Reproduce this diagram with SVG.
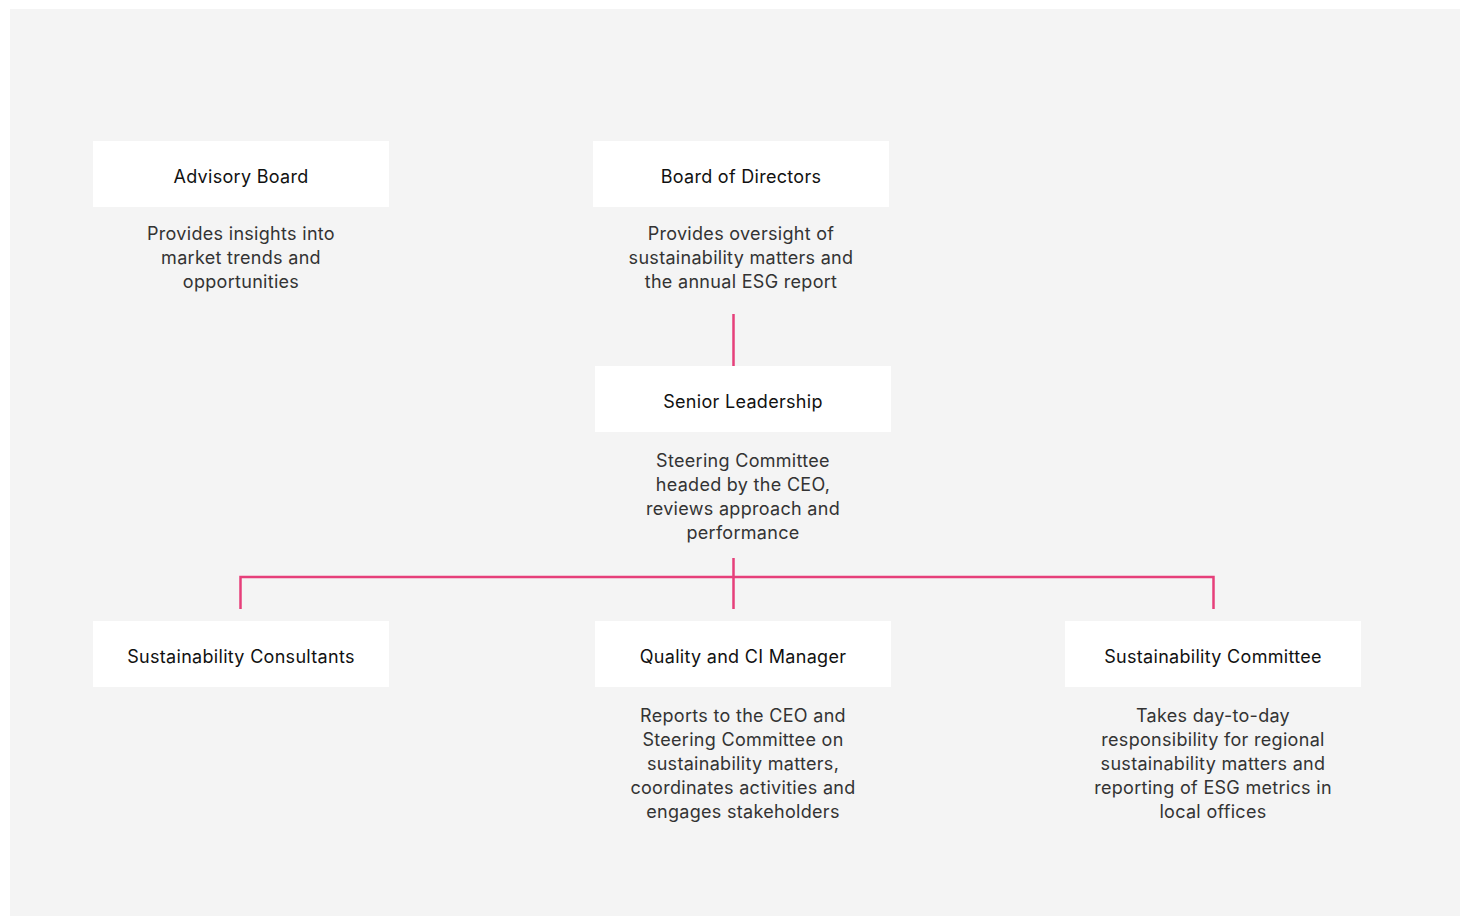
<svg xmlns="http://www.w3.org/2000/svg" width="1460" height="916" viewBox="0 0 1460 916">
<style>
.box{fill:#ffffff}
.t{font-family:Inter,"Liberation Sans",sans-serif;font-size:18px;letter-spacing:0.3px;fill:#111111;text-anchor:middle}
.d{font-family:Inter,"Liberation Sans",sans-serif;font-size:18px;letter-spacing:0.3px;fill:#333333;text-anchor:middle}
.c{fill:none;stroke:#e63f7a;stroke-width:2.5}
</style>
<rect width="1460" height="916" fill="#ffffff"/>
<rect x="10" y="9" width="1450" height="907" fill="#f4f4f4"/>
<g id="connectors">
<line class="c" x1="733.5" y1="314" x2="733.5" y2="366"/>
<line class="c" x1="733.5" y1="558" x2="733.5" y2="609"/>
<polyline class="c" points="240.5,609 240.5,577 1213.5,577 1213.5,609"/>
</g>
<g id="advisory-board">
<rect class="box" x="93" y="141" width="296" height="66"/>
<text class="t" x="241" y="182.5">Advisory Board</text>
<text class="d" x="241" y="239.5">Provides insights into</text>
<text class="d" x="241" y="263.5">market trends and</text>
<text class="d" x="241" y="287.5">opportunities</text>
</g>
<g id="board-of-directors">
<rect class="box" x="593" y="141" width="296" height="66"/>
<text class="t" x="741" y="182.5">Board of Directors</text>
<text class="d" x="741" y="239.5">Provides oversight of</text>
<text class="d" x="741" y="263.5">sustainability matters and</text>
<text class="d" x="741" y="287.5">the annual ESG report</text>
</g>
<g id="senior-leadership">
<rect class="box" x="595" y="366" width="296" height="66"/>
<text class="t" x="743" y="407.5">Senior Leadership</text>
<text class="d" x="743" y="466.5">Steering Committee</text>
<text class="d" x="743" y="490.5">headed by the CEO,</text>
<text class="d" x="743" y="514.5">reviews approach and</text>
<text class="d" x="743" y="538.5">performance</text>
</g>
<g id="sustainability-consultants">
<rect class="box" x="93" y="621" width="296" height="66"/>
<text class="t" x="241" y="662.5">Sustainability Consultants</text>
</g>
<g id="quality-ci-manager">
<rect class="box" x="595" y="621" width="296" height="66"/>
<text class="t" x="743" y="662.5">Quality and CI Manager</text>
<text class="d" x="743" y="721.5">Reports to the CEO and</text>
<text class="d" x="743" y="745.5">Steering Committee on</text>
<text class="d" x="743" y="769.5">sustainability matters,</text>
<text class="d" x="743" y="793.5">coordinates activities and</text>
<text class="d" x="743" y="817.5">engages stakeholders</text>
</g>
<g id="sustainability-committee">
<rect class="box" x="1065" y="621" width="296" height="66"/>
<text class="t" x="1213" y="662.5">Sustainability Committee</text>
<text class="d" x="1213" y="721.5">Takes day-to-day</text>
<text class="d" x="1213" y="745.5">responsibility for regional</text>
<text class="d" x="1213" y="769.5">sustainability matters and</text>
<text class="d" x="1213" y="793.5">reporting of ESG metrics in</text>
<text class="d" x="1213" y="817.5">local offices</text>
</g>
</svg>
